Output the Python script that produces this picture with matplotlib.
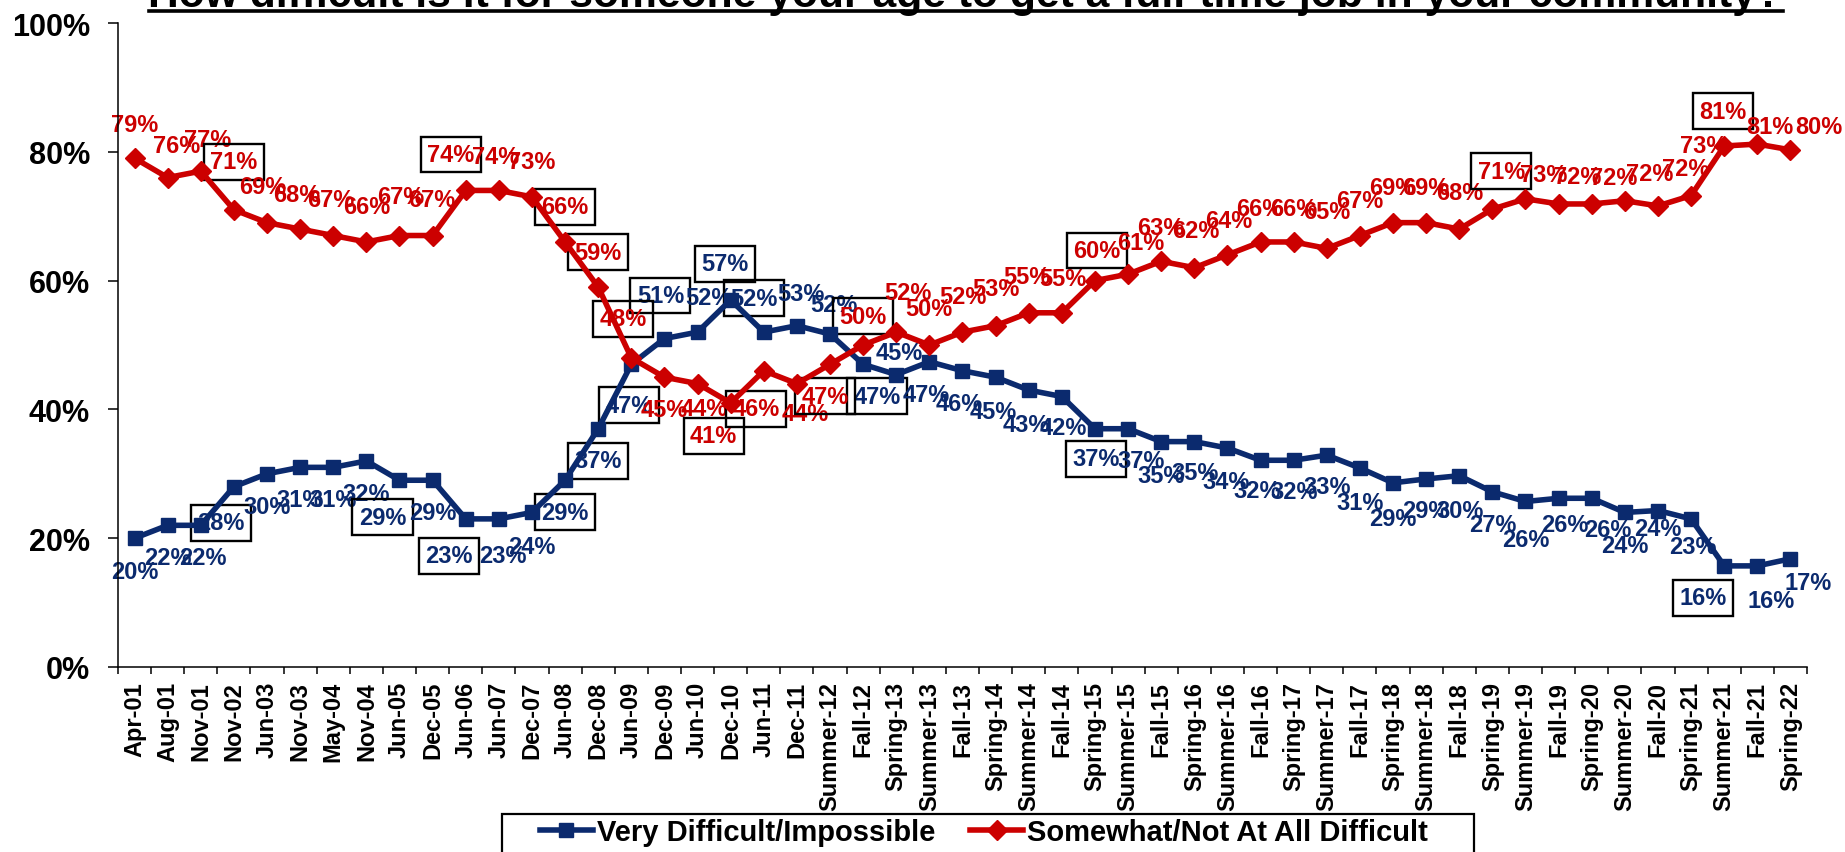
import numpy as np
import matplotlib
matplotlib.use('Agg')
import matplotlib.pyplot as plt
from matplotlib.lines import Line2D
from matplotlib.patches import Rectangle

plt.rcParams['font.family'] = ['Liberation Sans', 'DejaVu Sans']
plt.rcParams['font.weight'] = 'bold'

title = 'How difficult is it for someone your age to get a full-time job in your community?'

periods = ['Apr-01', 'Aug-01', 'Nov-01', 'Nov-02', 'Jun-03', 'Nov-03', 'May-04', 'Nov-04',
           'Jun-05', 'Dec-05', 'Jun-06', 'Jun-07', 'Dec-07', 'Jun-08', 'Dec-08', 'Jun-09',
           'Dec-09', 'Jun-10', 'Dec-10', 'Jun-11', 'Dec-11', 'Summer-12', 'Fall-12',
           'Spring-13', 'Summer-13', 'Fall-13', 'Spring-14', 'Summer-14', 'Fall-14',
           'Spring-15', 'Summer-15', 'Fall-15', 'Spring-16', 'Summer-16', 'Fall-16',
           'Spring-17', 'Summer-17', 'Fall-17', 'Spring-18', 'Summer-18', 'Fall-18',
           'Spring-19', 'Summer-19', 'Fall-19', 'Spring-20', 'Summer-20', 'Fall-20',
           'Spring-21', 'Summer-21', 'Fall-21', 'Spring-22']

# Very Difficult/Impossible
very_difficult = [20, 22, 22, 28, 30, 31, 31, 32, 29, 29, 23, 23, 24, 29, 37, 47, 51, 52, 57, 52,
                  53, 51.7, 47, 45.4, 47.4, 46, 45, 43, 42, 37, 37, 35, 35, 34.0, 32.1, 32.1,
                  32.9, 30.9, 28.6, 29.2, 29.7, 27.2, 25.7, 26.2, 26.2, 24.0, 24.3, 23.0,
                  15.7, 15.7, 16.8]

# Somewhat/Not At All Difficult
not_difficult = [79, 76, 77, 71, 69, 68, 67, 66, 67, 67, 74, 74, 73, 66, 59, 48, 45, 44, 41, 46,
                 44, 47, 50, 52, 50, 52, 53, 55, 55, 60, 61, 63, 62, 64, 66, 66, 65, 67, 69, 69,
                 68.0, 71.1, 72.7, 71.9, 71.9, 72.4, 71.6, 73.2, 80.9, 81.2, 80.3]

series_names = ['Very Difficult/Impossible', 'Somewhat/Not At All Difficult']

# label offsets in pixels (dx, dy up) and which labels carry a frame
blue_off = [(0, -33), (0, -32), (2, -32), (-13, -36), (0, -33), (0, -32), (0, -32), (0, -33),
            (-17, -37), (0, -32), (-17, -37), (4, -37), (0, -34), (0, -32), (0, -32), (-2, -41),
            (-4, 43), (11, 35), (-6, 36), (-10, 34), (4, 32), (4, 30), (14, -32), (3, 22),
            (-3, -33), (-3, -33), (-2, -34), (-2, -34), (1, -31), (1, -30), (13, -32), (0, -34),
            (1, -31), (-1, -33), (-3, -30), (0, -31), (0, -31), (0, -34), (0, -36), (0, -32),
            (1, -35), (0, -33), (0, -38), (6, -26), (16, -31), (0, -33), (0, -18), (2, -28),
            (-21, -32), (14, -35), (18, -24)]
red_off = [(0, 34), (9, 32), (7, 32), (0, 48), (-4, 36), (-3, 35), (-3, 36), (0, 35), (1, 39),
           (-1, 36), (-15, 36), (-3, 34), (0, 35), (0, 35), (0, 35), (-8, 39), (0, -32), (7, -25),
           (-17, -33), (-8, -38), (8, -30), (-5, -32), (0, 29), (12, 40), (-1, 36), (0, 36),
           (0, 37), (-2, 36), (1, 34), (2, 30), (13, 32), (0, 34), (1, 37), (1, 34), (-1, 33),
           (0, 33), (0, 37), (0, 35), (0, 35), (0, 35), (0, 37), (9, 38), (18, 24), (19, 27),
           (22, 26), (25, 27), (28, 37), (13, 50), (-1, 35), (13, 18), (28, 23)]
blue_boxed = [3, 8, 10, 13, 14, 15, 16, 18, 19, 22, 29, 48]
red_boxed = [3, 10, 13, 14, 15, 18, 19, 21, 22, 29, 41, 48]

blue = '#0B2A6E'
red = '#CC0000'

W, H = 1845, 853
fig = plt.figure(figsize=(W / 100, H / 100), dpi=100)
ax = fig.add_axes([118 / W, 185 / H, 1689 / W, 644 / H])

x = np.arange(len(periods))
ax.plot(x, very_difficult, color=blue, lw=4.0, marker='s', ms=10.5, zorder=3, clip_on=False)
ax.plot(x, not_difficult, color=red, lw=4.0, marker='D', ms=10, zorder=4, clip_on=False)

for vals, offs, boxed, col in [(very_difficult, blue_off, blue_boxed, blue),
                               (not_difficult, red_off, red_boxed, red)]:
    for i, v in enumerate(vals):
        bb = None
        if i in boxed:
            bb = dict(boxstyle='square,pad=0.27', fc='none', ec='black', lw=1.7)
        ax.annotate(f'{round(v)}%', (i, v), xytext=offs[i], textcoords='offset pixels',
                    ha='center', va='center', fontsize=17, color=col, bbox=bb,
                    zorder=2, annotation_clip=False)

ax.set_xlim(-0.5, len(periods) - 0.5)
ax.set_ylim(0, 100)
ax.set_yticks(range(0, 101, 20))
ax.set_yticklabels([f'{v}%' for v in range(0, 101, 20)], fontsize=22)
ax.tick_params(axis='y', length=7.2, width=1.1, pad=13)
ax.set_xticks(np.arange(-0.5, len(periods), 1))
ax.tick_params(axis='x', which='major', length=5, width=1.1, labelbottom=False)
ax.set_xticks(x, labels=periods, minor=True, rotation=90, fontsize=17, va='top', ha='center')
ax.tick_params(axis='x', which='minor', length=0, pad=10)
for s in ['top', 'right']:
    ax.spines[s].set_visible(False)
for s in ['left', 'bottom']:
    ax.spines[s].set_linewidth(1.1)

handles = [Line2D([], [], color=blue, lw=4.0, marker='s', ms=10.5),
           Line2D([], [], color=red, lw=4.0, marker='D', ms=10)]
fig.legend(handles, series_names, loc='center left', bbox_to_anchor=(540 / W, 20 / H),
           bbox_transform=fig.transFigure, ncol=2, frameon=False, fontsize=21,
           handlelength=1.8, handletextpad=0.15, columnspacing=1.2, borderpad=0,
           borderaxespad=0)
fig.add_artist(Rectangle((502 / W, -0.05), (1474 - 502) / W, (853 - 815) / H + 0.05,
                         transform=fig.transFigure, fill=False, lw=1.6, ec='black',
                         clip_on=False))

# title, cut at the top edge, underlined
t = fig.text(965.5 / W, 846 / H, title, ha='center', va='baseline', fontsize=26)
fig.canvas.draw()
tw = t.get_window_extent().width
t.set_fontsize(26 * 1637 / tw)
fig.canvas.draw()
ext = t.get_window_extent()
fig.add_artist(Line2D([ext.x0 / W, ext.x1 / W], [841.5 / H, 841.5 / H],
                      transform=fig.transFigure, color='black', lw=2.6))

fig.savefig('out.png', dpi=100)
